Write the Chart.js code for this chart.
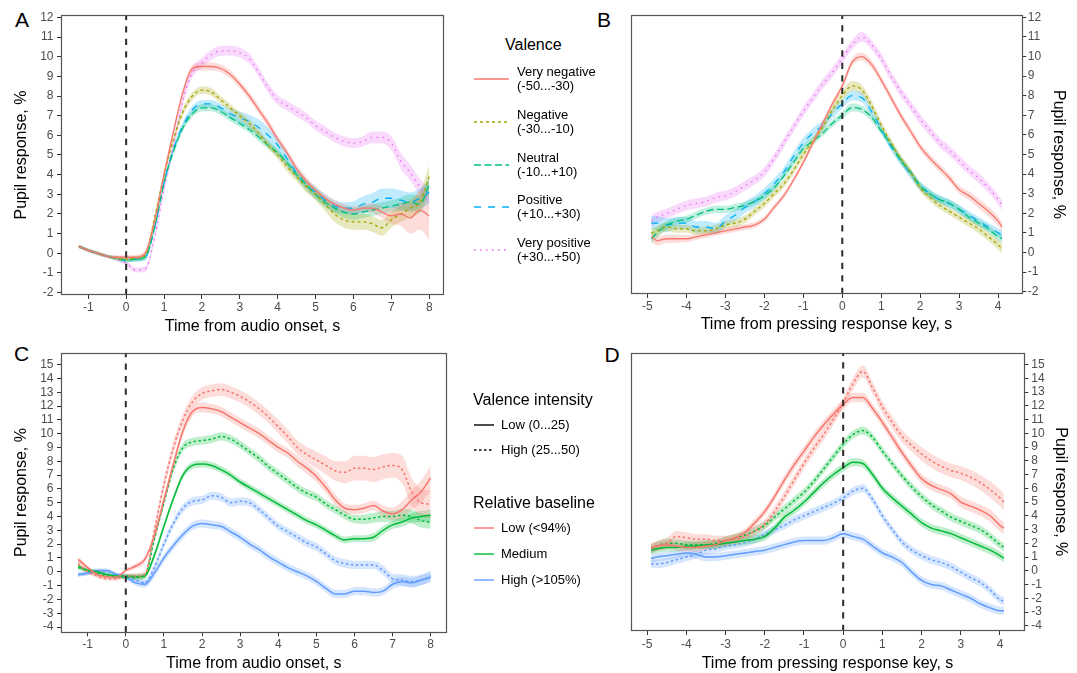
<!DOCTYPE html>
<html lang="en">
<head>
<meta charset="UTF-8">
<title>Pupil response</title>
<script src="https://cdn.jsdelivr.net/npm/chart.js"></script>
<style>
  body { margin: 0; background: #fff; font-family: "Liberation Sans", Arial, sans-serif; }
  #page { position: relative; width: 1077px; height: 673px; overflow: hidden; }
  canvas { position: absolute; }
  .letter { position: absolute; font-size: 21px; line-height: 1; color: #000; }
  .lg-title { position: absolute; font-size: 16px; line-height: 18px; color: #000; white-space: nowrap; }
  .lg-label { position: absolute; font-size: 13px; line-height: 14px; color: #000; white-space: nowrap; }
  .lg-key { position: absolute; }
</style>
</head>
<body>
<div id="page">
  <div class="letter" style="left:15px;top:9px">A</div>
  <div class="letter" style="left:597px;top:9px">B</div>
  <div class="letter" style="left:14px;top:342.5px">C</div>
  <div class="letter" style="left:604.5px;top:344px">D</div>
</div>
<script>
// time axes
var timeAudio = [-1.25,-1,-0.75,-0.5,-0.25,0,0.25,0.5,0.75,1,
  1.25,1.5,1.75,2,2.25,2.5,2.75,3,3.25,3.5,
  3.75,4,4.25,4.5,4.75,5,5.25,5.5,5.75,6,
  6.25,6.5,6.75,7,7.25,7.5,7.75,8];
var timeKey = [-4.9,-4.75,-4.5,-4.25,-4,-3.75,-3.5,-3.25,-3,-2.75,
  -2.5,-2.25,-2,-1.75,-1.5,-1.25,-1,-0.75,-0.5,-0.25,
  0,0.25,0.5,0.75,1,1.25,1.5,1.75,2,2.25,
  2.5,2.75,3,3.25,3.5,3.75,4,4.1];
var eventTime = 0;

// categories
var valenceLabels = [['Very negative','(-50...-30)'],['Negative','(-30...-10)'],['Neutral','(-10...+10)'],['Positive','(+10...+30)'],['Very positive','(+30...+50)']];
var intensityLabels = ['Low (0...25)','High (25...50)'];
var baselineLabels = ['Low (<94%)','Medium','High (>105%)'];

// A: valence, audio onset
var audioVeryNeg = [0.35,0.15,0.0,-0.15,-0.2,-0.2,-0.2,0.0,1.6,4.0,
  6.2,8.2,9.4,9.5,9.5,9.4,9.1,8.6,8.0,7.3,
  6.6,5.8,5.1,4.3,3.7,3.2,2.8,2.5,2.3,2.2,
  2.3,2.3,2.1,1.9,2.0,1.8,2.2,1.9];
var audioNeg = [0.35,0.15,0.0,-0.15,-0.25,-0.3,-0.25,-0.1,1.8,4.0,
  5.8,7.2,8.0,8.3,8.2,7.8,7.4,7.0,6.6,6.1,
  5.5,5.0,4.4,3.9,3.4,3.0,2.5,2.0,1.7,1.6,
  1.6,1.5,1.3,1.7,2.0,2.3,2.6,3.9];
var audioNeu = [0.35,0.15,0.0,-0.15,-0.25,-0.35,-0.3,-0.2,1.3,3.6,
  5.2,6.4,7.1,7.4,7.4,7.2,6.9,6.6,6.3,5.9,
  5.5,5.1,4.6,4.0,3.5,3.0,2.6,2.3,2.1,2.0,
  2.1,2.2,2.3,2.4,2.5,2.6,2.5,3.5];
var audioPos = [0.35,0.15,0.0,-0.15,-0.25,-0.35,-0.3,-0.2,1.3,3.6,
  5.3,6.5,7.3,7.6,7.6,7.4,7.1,6.9,6.7,6.4,
  6.0,5.5,4.8,4.1,3.5,3.1,2.7,2.4,2.3,2.3,
  2.5,2.6,2.8,2.8,2.7,2.6,2.8,3.1];
var audioVeryPos = [0.35,0.15,0.0,-0.15,-0.3,-0.5,-0.85,-0.8,0.8,3.3,
  5.5,7.8,9.2,9.7,10.1,10.3,10.3,10.2,9.9,9.2,
  8.4,7.8,7.5,7.2,6.9,6.5,6.2,5.9,5.7,5.6,
  5.7,5.9,5.9,5.6,4.7,4.1,3.4,2.9];
var audioVeryNegCI = [0.08,0.08,0.08,0.08,0.1,0.12,0.12,0.15,0.2,0.2,
  0.2,0.2,0.2,0.2,0.2,0.2,0.2,0.2,0.2,0.2,
  0.2,0.2,0.2,0.2,0.2,0.2,0.2,0.2,0.2,0.2,
  0.2,0.25,0.3,0.4,0.6,0.8,1.0,1.2];
var audioNegCI = [0.08,0.08,0.08,0.08,0.1,0.12,0.12,0.15,0.2,0.2,
  0.2,0.2,0.2,0.2,0.2,0.2,0.2,0.2,0.2,0.2,
  0.2,0.2,0.25,0.25,0.3,0.3,0.35,0.4,0.4,0.4,
  0.4,0.4,0.4,0.4,0.4,0.45,0.5,0.6];
var audioNeuCI = [0.08,0.08,0.08,0.08,0.1,0.12,0.12,0.15,0.18,0.18,
  0.18,0.18,0.18,0.18,0.18,0.18,0.18,0.18,0.18,0.2,
  0.2,0.2,0.2,0.2,0.2,0.25,0.25,0.25,0.3,0.3,
  0.3,0.3,0.3,0.3,0.35,0.4,0.45,0.5];
var audioPosCI = [0.08,0.08,0.08,0.08,0.1,0.12,0.12,0.15,0.2,0.2,
  0.2,0.2,0.2,0.2,0.2,0.2,0.25,0.3,0.35,0.4,
  0.4,0.4,0.35,0.3,0.3,0.3,0.3,0.3,0.3,0.35,
  0.4,0.45,0.5,0.5,0.5,0.5,0.5,0.6];
var audioVeryPosCI = [0.08,0.08,0.08,0.08,0.1,0.12,0.12,0.15,0.2,0.25,
  0.25,0.25,0.25,0.25,0.25,0.25,0.25,0.25,0.25,0.25,
  0.25,0.25,0.25,0.25,0.25,0.25,0.25,0.25,0.25,0.25,
  0.25,0.3,0.3,0.35,0.4,0.4,0.4,0.4];

// B: valence, response key
var keyVeryNeg = [0.8,0.6,0.7,0.7,0.7,0.8,0.9,1.0,1.1,1.2,
  1.3,1.4,1.7,2.3,2.9,3.7,4.6,5.6,6.6,7.6,
  8.5,9.7,10.0,9.6,8.8,7.9,7.0,6.2,5.4,4.8,
  4.3,3.8,3.2,2.9,2.5,2.1,1.6,1.3];
var keyNeg = [1.0,1.1,1.3,1.2,1.2,1.1,1.1,1.2,1.4,1.5,
  1.7,2.1,2.5,3.0,3.5,4.2,5.0,5.7,6.4,7.3,
  8.0,8.5,8.3,7.5,6.5,5.6,4.8,4.1,3.3,2.8,
  2.4,2.1,1.8,1.5,1.2,0.8,0.4,0.2];
var keyNeu = [0.7,1.0,1.4,1.6,1.7,1.9,2.1,2.2,2.2,2.3,
  2.4,2.6,2.9,3.3,3.9,4.6,5.3,5.7,6.1,6.6,
  7.0,7.4,7.3,6.9,6.2,5.5,4.7,4.1,3.4,3.0,
  2.7,2.5,2.2,1.8,1.5,1.2,0.8,0.7];
var keyPos = [1.5,1.5,1.4,1.5,1.5,1.3,1.3,1.2,1.6,1.9,
  2.3,2.6,3.0,3.5,4.1,4.9,5.6,6.1,6.5,7.1,
  7.6,8.0,7.9,7.2,6.3,5.4,4.7,4.0,3.4,3.0,
  2.7,2.5,2.2,1.9,1.6,1.3,1.0,0.9];
var keyVeryPos = [1.6,1.8,2.0,2.2,2.4,2.5,2.6,2.8,2.9,3.1,
  3.4,3.7,4.1,4.8,5.6,6.4,7.2,7.9,8.6,9.2,
  9.9,10.6,11.0,10.6,9.9,9.0,8.2,7.5,6.8,6.2,
  5.6,5.2,4.7,4.2,3.8,3.3,2.7,2.4];
var keyVeryNegCI = [0.25,0.25,0.2,0.2,0.18,0.15,0.15,0.15,0.15,0.15,
  0.15,0.15,0.15,0.15,0.15,0.15,0.15,0.15,0.15,0.15,
  0.18,0.2,0.2,0.2,0.2,0.2,0.2,0.2,0.2,0.2,
  0.2,0.2,0.2,0.22,0.25,0.25,0.25,0.25];
var keyNegCI = [0.25,0.25,0.22,0.2,0.2,0.2,0.2,0.2,0.2,0.2,
  0.2,0.2,0.2,0.2,0.2,0.2,0.2,0.2,0.2,0.25,
  0.25,0.25,0.25,0.25,0.2,0.2,0.2,0.2,0.2,0.2,
  0.2,0.2,0.2,0.2,0.22,0.22,0.25,0.25];
var keyNeuCI = [0.25,0.25,0.22,0.2,0.18,0.18,0.18,0.18,0.18,0.18,
  0.18,0.18,0.18,0.18,0.18,0.18,0.18,0.18,0.18,0.18,
  0.2,0.2,0.2,0.2,0.18,0.18,0.18,0.18,0.18,0.18,
  0.18,0.18,0.18,0.18,0.18,0.2,0.2,0.2];
var keyPosCI = [0.35,0.35,0.35,0.3,0.3,0.3,0.3,0.3,0.3,0.3,
  0.3,0.3,0.3,0.28,0.25,0.25,0.25,0.25,0.25,0.25,
  0.25,0.25,0.25,0.25,0.22,0.22,0.22,0.22,0.22,0.22,
  0.22,0.22,0.22,0.22,0.22,0.22,0.22,0.22];
var keyVeryPosCI = [0.3,0.28,0.25,0.25,0.25,0.25,0.25,0.25,0.25,0.25,
  0.25,0.25,0.25,0.25,0.25,0.25,0.25,0.25,0.25,0.25,
  0.25,0.25,0.25,0.25,0.25,0.25,0.25,0.25,0.25,0.25,
  0.25,0.25,0.25,0.25,0.25,0.25,0.25,0.25];

// C: intensity x baseline, audio onset
var audioLowBaseLowInt = [0.9,0.3,-0.2,-0.35,-0.4,0.1,0.4,0.9,2.6,5.2,
  7.8,10.2,11.6,11.9,11.8,11.6,11.2,10.8,10.4,10.0,
  9.5,9.0,8.6,8.0,7.5,6.9,6.1,5.2,4.6,4.5,
  4.6,4.8,4.4,4.2,4.5,5.2,5.8,6.8];
var audioLowBaseHighInt = [0.6,0.0,-0.3,-0.5,-0.5,-0.3,-0.3,-0.2,3.0,6.3,
  9.0,11.0,12.3,12.9,13.1,13.2,13.0,12.7,12.3,11.8,
  11.2,10.5,9.8,9.0,8.5,8.1,7.7,7.3,7.2,7.5,
  7.5,7.4,7.6,7.7,7.4,5.8,5.0,4.9];
var audioMedBaseLowInt = [0.4,0.1,0.0,-0.2,-0.3,-0.3,-0.35,-0.3,1.2,3.3,
  5.3,7.0,7.7,7.8,7.7,7.4,7.0,6.5,6.1,5.7,
  5.3,4.9,4.5,4.1,3.7,3.4,3.0,2.6,2.3,2.4,
  2.4,2.5,3.0,3.4,3.6,3.9,4.0,4.1];
var audioMedBaseHighInt = [0.3,0.1,-0.1,-0.3,-0.35,-0.4,-0.4,-0.3,2.4,5.0,
  7.5,9.0,9.4,9.5,9.6,9.8,9.6,9.2,8.7,8.2,
  7.6,7.1,6.6,6.1,5.7,5.4,4.9,4.5,4.1,3.8,
  3.8,3.9,4.0,4.0,4.1,4.0,3.7,3.6];
var audioHighBaseLowInt = [-0.2,-0.1,0.1,0.1,-0.2,-0.4,-0.8,-0.9,-0.1,1.0,
  1.9,2.7,3.3,3.5,3.4,3.3,2.9,2.5,2.0,1.6,
  1.1,0.7,0.3,0.0,-0.3,-0.7,-1.2,-1.6,-1.6,-1.4,
  -1.4,-1.5,-1.4,-0.9,-0.7,-0.8,-0.6,-0.4];
var audioHighBaseHighInt = [-0.2,-0.1,0.0,0.0,-0.2,-0.3,-0.6,-0.8,0.3,2.0,
  3.5,4.6,5.1,5.2,5.5,5.4,5.0,5.1,5.0,4.5,
  3.9,3.3,2.9,2.5,2.1,1.8,1.3,0.8,0.6,0.5,
  0.5,0.5,0.1,-0.5,-0.6,-0.7,-0.6,-0.3];
var audioLowBaseLowIntCI = [0.2,0.15,0.15,0.15,0.15,0.15,0.2,0.25,0.3,0.35,
  0.35,0.35,0.35,0.35,0.35,0.35,0.35,0.35,0.35,0.35,
  0.35,0.35,0.35,0.4,0.4,0.4,0.4,0.4,0.35,0.35,
  0.35,0.35,0.4,0.45,0.6,0.7,0.8,0.9];
var audioLowBaseHighIntCI = [0.2,0.15,0.15,0.15,0.15,0.15,0.2,0.25,0.35,0.45,
  0.45,0.45,0.45,0.45,0.45,0.45,0.45,0.45,0.45,0.45,
  0.45,0.5,0.5,0.5,0.55,0.6,0.65,0.7,0.8,0.9,
  0.9,0.9,0.9,0.9,1.0,1.0,1.0,1.0];
var audioMedBaseLowIntCI = [0.15,0.15,0.15,0.15,0.15,0.15,0.2,0.2,0.25,0.25,
  0.25,0.25,0.25,0.25,0.25,0.25,0.25,0.25,0.25,0.25,
  0.25,0.25,0.25,0.25,0.25,0.25,0.25,0.25,0.25,0.25,
  0.25,0.3,0.3,0.3,0.35,0.35,0.4,0.4];
var audioMedBaseHighIntCI = [0.15,0.15,0.15,0.15,0.15,0.15,0.2,0.2,0.3,0.3,
  0.3,0.3,0.3,0.3,0.3,0.3,0.3,0.3,0.3,0.3,
  0.3,0.3,0.3,0.3,0.3,0.3,0.3,0.3,0.3,0.3,
  0.35,0.35,0.4,0.4,0.45,0.5,0.5,0.5];
var audioHighBaseLowIntCI = [0.15,0.15,0.15,0.15,0.15,0.15,0.2,0.25,0.3,0.3,
  0.3,0.3,0.3,0.3,0.3,0.3,0.3,0.3,0.3,0.3,
  0.3,0.3,0.3,0.3,0.3,0.3,0.3,0.3,0.3,0.3,
  0.3,0.3,0.3,0.35,0.35,0.35,0.35,0.35];
var audioHighBaseHighIntCI = [0.15,0.15,0.15,0.15,0.15,0.15,0.2,0.25,0.3,0.3,
  0.3,0.3,0.3,0.3,0.3,0.3,0.3,0.3,0.3,0.3,
  0.3,0.3,0.3,0.3,0.3,0.3,0.3,0.3,0.3,0.3,
  0.3,0.3,0.35,0.35,0.4,0.4,0.4,0.4];

// D: intensity x baseline, response key
var keyLowBaseLowInt = [1.7,1.8,1.9,1.8,1.7,1.7,1.8,1.9,2.2,2.4,
  2.8,3.5,4.3,5.4,6.6,7.7,8.7,9.7,10.6,11.4,
  12.1,12.6,12.6,11.8,10.8,9.7,8.6,7.6,6.7,6.2,
  5.9,5.6,5.0,4.7,4.4,4.0,3.3,3.1];
var keyLowBaseHighInt = [1.6,1.8,2.0,2.5,2.4,2.3,2.3,2.2,2.2,2.3,
  2.5,2.9,3.4,4.3,5.4,6.6,7.8,8.9,9.9,11.0,
  12.2,13.6,14.5,13.3,11.9,10.8,9.8,9.1,8.5,8.0,
  7.6,7.3,7.1,6.8,6.4,5.9,5.3,5.0];
var keyMedBaseLowInt = [1.5,1.6,1.7,1.7,1.8,1.8,1.9,1.9,2.0,2.1,
  2.2,2.3,2.5,3.1,3.9,4.4,5.0,5.7,6.4,7.0,
  7.5,7.9,7.8,7.0,6.0,5.3,4.7,4.1,3.5,3.1,
  2.9,2.7,2.4,2.1,1.8,1.5,1.1,0.9];
var keyMedBaseHighInt = [1.6,1.8,2.0,2.0,1.9,1.9,1.9,2.0,2.2,2.4,
  2.6,2.9,3.3,3.9,4.5,5.1,5.7,6.5,7.4,8.3,
  9.2,9.9,10.2,9.7,8.7,7.8,6.9,6.1,5.4,4.8,
  4.35,3.9,3.6,3.3,3.0,2.5,1.9,1.7];
var keyHighBaseLowInt = [0.9,1.0,1.1,1.2,1.3,1.2,1.0,1.0,1.1,1.2,
  1.3,1.4,1.5,1.7,1.9,2.1,2.2,2.2,2.2,2.4,
  2.7,2.5,2.3,1.8,1.3,1.0,0.6,-0.1,-0.7,-1.0,
  -1.1,-1.4,-1.7,-2.0,-2.4,-2.7,-2.9,-2.9];
var keyHighBaseHighInt = [0.5,0.5,0.6,0.8,1.0,1.2,1.5,1.6,1.8,1.9,
  2.05,2.3,2.65,3.0,3.3,3.7,4.0,4.3,4.6,4.9,
  5.3,5.8,6.0,5.2,4.0,3.0,2.1,1.5,1.1,0.8,
  0.6,0.3,-0.1,-0.5,-0.85,-1.4,-2.1,-2.2];
var keyLowBaseLowIntCI = [0.3,0.3,0.3,0.3,0.3,0.3,0.3,0.3,0.3,0.3,
  0.3,0.3,0.3,0.3,0.35,0.35,0.35,0.35,0.35,0.35,
  0.35,0.35,0.35,0.35,0.35,0.35,0.35,0.35,0.35,0.35,
  0.35,0.35,0.4,0.4,0.4,0.45,0.45,0.45];
var keyLowBaseHighIntCI = [0.35,0.35,0.4,0.4,0.4,0.35,0.35,0.35,0.35,0.35,
  0.35,0.35,0.35,0.4,0.4,0.4,0.4,0.4,0.4,0.4,
  0.4,0.45,0.45,0.45,0.45,0.45,0.45,0.45,0.5,0.5,
  0.5,0.5,0.5,0.55,0.55,0.6,0.6,0.6];
var keyMedBaseLowIntCI = [0.3,0.3,0.3,0.3,0.3,0.3,0.3,0.3,0.3,0.3,
  0.3,0.3,0.3,0.3,0.3,0.3,0.3,0.3,0.3,0.3,
  0.3,0.3,0.3,0.3,0.3,0.3,0.3,0.3,0.3,0.3,
  0.3,0.3,0.3,0.3,0.3,0.3,0.3,0.3];
var keyMedBaseHighIntCI = [0.35,0.35,0.35,0.3,0.3,0.3,0.3,0.3,0.3,0.3,
  0.3,0.3,0.3,0.3,0.3,0.3,0.3,0.3,0.3,0.3,
  0.3,0.3,0.3,0.3,0.3,0.3,0.3,0.3,0.3,0.3,
  0.3,0.3,0.3,0.3,0.3,0.3,0.3,0.3];
var keyHighBaseLowIntCI = [0.3,0.3,0.3,0.3,0.3,0.3,0.3,0.3,0.3,0.3,
  0.3,0.3,0.3,0.3,0.3,0.3,0.3,0.3,0.3,0.3,
  0.3,0.3,0.3,0.3,0.3,0.3,0.3,0.3,0.3,0.3,
  0.3,0.3,0.3,0.3,0.3,0.3,0.3,0.3];
var keyHighBaseHighIntCI = [0.3,0.3,0.3,0.3,0.3,0.3,0.3,0.3,0.3,0.3,
  0.3,0.3,0.3,0.3,0.3,0.3,0.3,0.3,0.3,0.3,
  0.3,0.3,0.3,0.3,0.3,0.3,0.3,0.3,0.3,0.3,
  0.3,0.3,0.3,0.3,0.3,0.3,0.3,0.3];

// styles
var valenceColors = ['#F8766D', '#A3A500', '#00BF7D', '#00B0F6', '#E76BF3'];
var valenceDash = [[], [3, 3], [7, 3.5], [7, 7], [1.5, 4.5]];
var baselineColors = ['#F8766D', '#00BA38', '#619CFF'];
var intensityDash = [[], [2.5, 2.5]];

Chart.defaults.font.family = '"Liberation Sans", Arial, Helvetica, sans-serif';

var page = document.getElementById('page');

function pts(time, vals) {
    return time.map(function (t, i) { return {x: t, y: vals[i]}; });
}

function shade(hex, a) {
    var n = parseInt(hex.slice(1), 16);
    return 'rgba(' + (n >> 16) + ',' + ((n >> 8) & 255) + ',' + (n & 255) + ',' + a + ')';
}

function seriesSets(time, s, lw) {
    var lo = s.mean.map(function (v, i) { return v - s.ci[i]; });
    var hi = s.mean.map(function (v, i) { return v + s.ci[i]; });
    return [
        {data: pts(time, lo), borderWidth: 0, pointRadius: 0, fill: false, order: 3, cubicInterpolationMode: 'monotone'},
        {data: pts(time, hi), borderWidth: 0, pointRadius: 0, fill: '-1', backgroundColor: shade(s.color, 0.25), order: 3, cubicInterpolationMode: 'monotone'},
        {data: pts(time, s.mean), borderColor: s.color, borderDash: s.dash, borderWidth: lw, pointRadius: 0, fill: false, order: 1, cubicInterpolationMode: 'monotone'}
    ];
}

// panel border like the ggplot frame
var frame = {
    id: 'frame',
    afterDatasetsDraw: function (chart) {
        var a = chart.chartArea, ctx = chart.ctx;
        ctx.save();
        ctx.strokeStyle = '#555';
        ctx.lineWidth = 1.2;
        ctx.strokeRect(Math.round(a.left) + 0.5, Math.round(a.top) + 0.5, Math.round(a.right - a.left) - 1, Math.round(a.bottom - a.top) - 1);
        ctx.restore();
    }
};

function panel(cfg) {
    var cv = document.createElement('canvas');
    cv.width = cfg.w;
    cv.height = cfg.h;
    cv.style.left = cfg.left + 'px';
    cv.style.top = cfg.top + 'px';
    page.appendChild(cv);

    var sets = [];
    cfg.series.forEach(function (s) { sets = sets.concat(seriesSets(cfg.time, s, cfg.lineW)); });
    sets.push({
        data: [{x: eventTime, y: cfg.yMin}, {x: eventTime, y: cfg.yMax}],
        borderColor: '#2a2a2a', borderDash: [6.3, 6.2], borderWidth: 2, pointRadius: 0, fill: false, order: 0
    });

    new Chart(cv, {
        type: 'line',
        data: {datasets: sets},
        options: {
            responsive: false,
            devicePixelRatio: 1,
            animation: false,
            layout: {padding: cfg.pad},
            plugins: {legend: {display: false}, tooltip: {enabled: false}},
            scales: {
                x: {
                    type: 'linear', min: cfg.xMin, max: cfg.xMax,
                    afterFit: function (s) { s.height = cfg.xAxisH; s.paddingLeft = 0; s.paddingRight = 0; },
                    ticks: {stepSize: 1, includeBounds: false, autoSkip: false, maxRotation: 0, color: '#4d4d4d', font: {size: 12}, padding: cfg.xTickPad},
                    grid: {drawOnChartArea: false, tickLength: 4, color: '#333'},
                    border: {display: false},
                    title: {display: true, text: cfg.xTitle, color: '#000', font: {size: 16}, padding: {top: 0, bottom: cfg.xTitlePad}}
                },
                y: {
                    type: 'linear', position: cfg.yPos, min: cfg.yMin, max: cfg.yMax,
                    afterFit: function (s) { s.width = cfg.yAxisW; s.paddingTop = 0; s.paddingBottom = 0; },
                    ticks: {stepSize: 1, includeBounds: false, autoSkip: false, color: '#4d4d4d', font: {size: 12}, padding: cfg.yTickPad},
                    grid: {drawOnChartArea: false, tickLength: 4, color: '#333'},
                    border: {display: false},
                    title: {display: true, text: 'Pupil response, %', color: '#000', font: {size: 16}, padding: {top: cfg.yTitlePad, bottom: 0}}
                }
            }
        },
        plugins: [frame]
    });
}

var valenceA = [
    {mean: audioVeryNeg, ci: audioVeryNegCI}, {mean: audioNeg, ci: audioNegCI}, {mean: audioNeu, ci: audioNeuCI},
    {mean: audioPos, ci: audioPosCI}, {mean: audioVeryPos, ci: audioVeryPosCI}
];
var valenceB = [
    {mean: keyVeryNeg, ci: keyVeryNegCI}, {mean: keyNeg, ci: keyNegCI}, {mean: keyNeu, ci: keyNeuCI},
    {mean: keyPos, ci: keyPosCI}, {mean: keyVeryPos, ci: keyVeryPosCI}
];
valenceA.concat(valenceB).forEach(function (s, i) { s.color = valenceColors[i % 5]; s.dash = valenceDash[i % 5]; });

var groupsC = [
    [audioLowBaseLowInt, audioLowBaseLowIntCI, 0, 0], [audioLowBaseHighInt, audioLowBaseHighIntCI, 0, 1],
    [audioMedBaseLowInt, audioMedBaseLowIntCI, 1, 0], [audioMedBaseHighInt, audioMedBaseHighIntCI, 1, 1],
    [audioHighBaseLowInt, audioHighBaseLowIntCI, 2, 0], [audioHighBaseHighInt, audioHighBaseHighIntCI, 2, 1]
].map(function (g) { return {mean: g[0], ci: g[1], color: baselineColors[g[2]], dash: intensityDash[g[3]]}; });
var groupsD = [
    [keyLowBaseLowInt, keyLowBaseLowIntCI, 0, 0], [keyLowBaseHighInt, keyLowBaseHighIntCI, 0, 1],
    [keyMedBaseLowInt, keyMedBaseLowIntCI, 1, 0], [keyMedBaseHighInt, keyMedBaseHighIntCI, 1, 1],
    [keyHighBaseLowInt, keyHighBaseLowIntCI, 2, 0], [keyHighBaseHighInt, keyHighBaseHighIntCI, 2, 1]
].map(function (g) { return {mean: g[0], ci: g[1], color: baselineColors[g[2]], dash: intensityDash[g[3]]}; });

panel({left: 0, top: 0, w: 450, h: 340, pad: {left: 0, top: 15, right: 6, bottom: 0},
    yAxisW: 61, xAxisH: 45, xMin: -1.72, xMax: 8.39, yMin: -2.12, yMax: 12.12, yPos: 'left',
    yTickPad: 3.5, xTickPad: 1, xTitlePad: 3.7, yTitlePad: 12.1, lineW: 1.3,
    xTitle: 'Time from audio onset, s', time: timeAudio, series: valenceA});
panel({left: 590, top: 0, w: 487, h: 340, pad: {left: 40.7, top: 15, right: 0, bottom: 1},
    yAxisW: 54.7, xAxisH: 45, xMin: -5.43, xMax: 4.62, yMin: -2.12, yMax: 12.12, yPos: 'right',
    yTickPad: 1.5, xTickPad: 1.8, xTitlePad: 4.4, yTitlePad: 9.4, lineW: 1.3,
    xTitle: 'Time from pressing response key, s', time: timeKey, series: valenceB});
panel({left: 0, top: 340, w: 450, h: 333, pad: {left: 0, top: 12.7, right: 3.3, bottom: 0},
    yAxisW: 61, xAxisH: 40.7, xMin: -1.70, xMax: 8.42, yMin: -4.38, yMax: 15.86, yPos: 'left',
    yTickPad: 3.5, xTickPad: 1.5, xTitlePad: 0, yTitlePad: 12.1, lineW: 1.5,
    xTitle: 'Time from audio onset, s', time: timeAudio, series: groupsC});
panel({left: 590, top: 340, w: 487, h: 333, pad: {left: 40.7, top: 12.7, right: 0, bottom: 0},
    yAxisW: 52.7, xAxisH: 42, xMin: -5.42, xMax: 4.62, yMin: -4.38, yMax: 15.86, yPos: 'right',
    yTickPad: 3, xTickPad: 2.8, xTitlePad: 0.1, yTitlePad: 7.4, lineW: 1.5,
    xTitle: 'Time from pressing response key, s', time: timeKey, series: groupsD});

// legends
function addText(cls, text, x, y) {
    var d = document.createElement('div');
    d.className = cls;
    d.style.left = x + 'px';
    d.style.top = y + 'px';
    d.innerHTML = text;
    page.appendChild(d);
}
function addKey(x, y, len, color, dash) {
    var ns = 'http://www.w3.org/2000/svg';
    var svg = document.createElementNS(ns, 'svg');
    svg.setAttribute('class', 'lg-key');
    svg.setAttribute('width', len);
    svg.setAttribute('height', 6);
    svg.style.left = x + 'px';
    svg.style.top = (y - 3) + 'px';
    var ln = document.createElementNS(ns, 'line');
    ln.setAttribute('x1', 0); ln.setAttribute('x2', len);
    ln.setAttribute('y1', 3); ln.setAttribute('y2', 3);
    ln.setAttribute('stroke', color);
    ln.setAttribute('stroke-width', 1.4);
    if (dash.length) ln.setAttribute('stroke-dasharray', dash.join(' '));
    svg.appendChild(ln);
    page.appendChild(svg);
}
function esc(t) { return t.replace(/&/g, '&amp;').replace(/</g, '&lt;').replace(/>/g, '&gt;'); }

addText('lg-title', 'Valence', 505, 36);
valenceLabels.forEach(function (lab, i) {
    var cy = 79 + 42.8 * i;
    addKey(474, cy, 35, valenceColors[i], valenceDash[i]);
    addText('lg-label', esc(lab[0]) + '<br>' + esc(lab[1]), 517, cy - 14);
});

addText('lg-title', 'Valence intensity', 473, 391);
intensityLabels.forEach(function (lab, i) {
    var cy = 425 + 25 * i;
    addKey(474, cy, 20, '#000', intensityDash[i]);
    addText('lg-label', esc(lab), 501, cy - 7);
});
addText('lg-title', 'Relative baseline', 473, 494.3);
baselineLabels.forEach(function (lab, i) {
    var cy = 528.3 + 25.6 * i;
    addKey(474, cy, 20, baselineColors[i], []);
    addText('lg-label', esc(lab), 501, cy - 7);
});
</script>
</body>
</html>
